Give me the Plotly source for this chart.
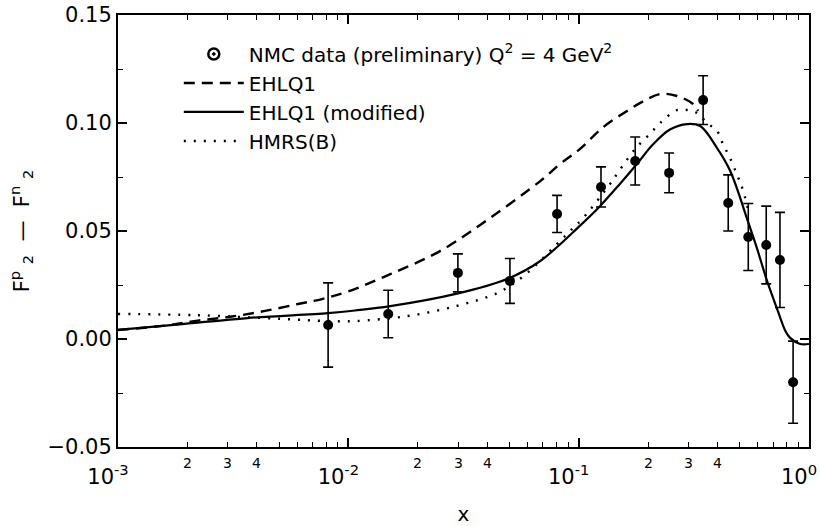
import math
import plotly.graph_objects as go

# ---------------- data ----------------
nmc_x = [0.00817, 0.0149, 0.0299, 0.0503, 0.0806, 0.125, 0.176, 0.247, 0.347,
         0.446, 0.545, 0.652, 0.748, 0.853]
nmc_y = [0.0065, 0.0116, 0.0306, 0.0269, 0.0579, 0.0704, 0.0824, 0.0769, 0.1106,
         0.063, 0.0472, 0.0435, 0.0366, -0.020]
nmc_err = [0.0195, 0.011, 0.0088, 0.0104, 0.0086, 0.0093, 0.0111, 0.0092, 0.0113,
           0.013, 0.0155, 0.018, 0.022, 0.019]

ehlq1_x = [0.001, 0.0016, 0.00222, 0.00312, 0.00435, 0.00605, 0.00769, 0.00998,
           0.0152, 0.025, 0.0412, 0.0679, 0.083, 0.1014, 0.1276, 0.1622, 0.1905,
           0.2256, 0.2673, 0.314, 0.330]
ehlq1_y = [0.0042, 0.0062, 0.0085, 0.0104, 0.013, 0.0162, 0.0185, 0.022,
           0.030, 0.0407, 0.056, 0.073, 0.081, 0.088, 0.098, 0.1056, 0.110,
           0.1134, 0.1125, 0.1088, 0.1056]

mod_x = [0.001, 0.0019, 0.00366, 0.00817, 0.0107, 0.0152, 0.0296, 0.0489, 0.0679,
         0.1014, 0.124, 0.151, 0.179, 0.210, 0.249, 0.296, 0.337, 0.399,
         0.454, 0.545, 0.596, 0.657, 0.734, 0.79, 0.828, 0.915, 1.0]
mod_y = [0.0042, 0.0069, 0.0097, 0.012, 0.0132, 0.0152, 0.021, 0.0278, 0.036,
         0.0525, 0.0616, 0.0718, 0.081, 0.090, 0.097, 0.0995, 0.0986, 0.0884,
         0.078, 0.054, 0.0416, 0.027, 0.0127, 0.0037, 0.0005, -0.0023, -0.0023]

hmrs_x = [0.001, 0.00222, 0.00515, 0.00817, 0.0107, 0.018, 0.0296, 0.0443, 0.0574,
          0.0806, 0.0946, 0.1045, 0.137, 0.148, 0.176, 0.204, 0.226, 0.267, 0.296,
          0.327, 0.361, 0.399, 0.424, 0.454, 0.487, 0.513, 0.544]
hmrs_y = [0.0116, 0.011, 0.0093, 0.0083, 0.0083, 0.0106, 0.0153, 0.0213, 0.029,
          0.044, 0.0514, 0.056, 0.0718, 0.077, 0.088, 0.095, 0.100, 0.106, 0.106,
          0.1046, 0.100, 0.0963, 0.090, 0.0838, 0.076, 0.070, 0.060]

x_major_vals = [0.001, 0.01, 0.1, 1.0]
x_major_text = ["10<sup>-3</sup>", "10<sup>-2</sup>", "10<sup>-1</sup>", "10<sup>0</sup>"]
x_minor_label_vals = [0.002, 0.003, 0.004, 0.02, 0.03, 0.04, 0.2, 0.3, 0.4]
x_minor_label_text = ["2", "3", "4", "2", "3", "4", "2", "3", "4"]
x_minor_ticks = [m * d for d in (0.001, 0.01, 0.1) for m in range(2, 10)]

y_major_vals = [-0.05, 0.0, 0.05, 0.10, 0.15]
y_major_text = ["\u22120.05", "0.00", "0.05", "0.10", "0.15"]
y_minor_vals = [-0.025, 0.025, 0.075, 0.125]

FONT = "DejaVu Sans"

fig = go.Figure()

fig.add_trace(go.Scatter(
    x=ehlq1_x, y=ehlq1_y, mode="lines", name="EHLQ1",
    line=dict(color="black", width=2.4, dash="11px,7px", shape="spline"),
    legendrank=2))
fig.add_trace(go.Scatter(
    x=mod_x, y=mod_y, mode="lines", name="EHLQ1 (modified)",
    line=dict(color="black", width=2.2, shape="spline"),
    legendrank=3))
fig.add_trace(go.Scatter(
    x=hmrs_x, y=hmrs_y, mode="lines", name="HMRS(B)",
    line=dict(color="black", width=2.4, dash="2px,8px", shape="spline"),
    legendrank=4))
fig.add_trace(go.Scatter(
    x=nmc_x, y=nmc_y, mode="markers", showlegend=False,
    marker=dict(color="black", size=10, symbol="circle"),
    error_y=dict(type="data", array=nmc_err, visible=True, color="black",
                 thickness=1.6, width=5)))
# legend entry for the data (legend glyph only)
fig.add_trace(go.Scatter(
    x=[None], y=[None], mode="markers",
    name="NMC data (preliminary) Q<sup>2</sup> = 4 GeV<sup>2</sup>",
    marker=dict(color="white", size=11, symbol="circle-dot",
                line=dict(color="black", width=2.5)),
    legendrank=1))

# minor decade labels 2, 3, 4
for v, t in zip(x_minor_label_vals, x_minor_label_text):
    fig.add_annotation(x=math.log10(v), xref="x", y=0, yref="paper",
                       yanchor="top", yshift=-6, text=t, showarrow=False,
                       font=dict(family=FONT, size=14, color="black"))

fig.update_layout(
    width=820, height=526,
    margin=dict(l=118, r=11, t=15, b=79),
    paper_bgcolor="white", plot_bgcolor="white",
    font=dict(family=FONT, color="black", size=20),
    legend=dict(x=0.088, y=0.955, xanchor="left", yanchor="top",
                bgcolor="rgba(0,0,0,0)", font=dict(size=20, family=FONT),
                itemwidth=60, traceorder="normal"),
    xaxis=dict(type="log", range=[-3, 0], showgrid=False, zeroline=False,
               automargin=False,
               showline=True, linecolor="black", linewidth=2, mirror="allticks",
               ticks="inside", ticklen=9, tickwidth=1.5, tickcolor="black",
               tickvals=x_major_vals, ticktext=x_major_text,
               tickfont=dict(size=21, family=FONT), ticklabelshift=-10,
               ticklabelstandoff=10,
               minor=dict(tickvals=x_minor_ticks, ticks="inside", ticklen=5,
                          tickwidth=1.3, tickcolor="black", showgrid=False),
               title=dict(text="x", font=dict(size=20, family=FONT), standoff=28)),
    yaxis=dict(range=[-0.05, 0.15], showgrid=False, zeroline=False,
               automargin=False,
               showline=True, linecolor="black", linewidth=2, mirror="allticks",
               ticks="inside", ticklen=9, tickwidth=1.5, tickcolor="black",
               tickvals=y_major_vals, ticktext=y_major_text,
               tickfont=dict(size=21, family=FONT),
               minor=dict(tickvals=y_minor_vals, ticks="inside", ticklen=5,
                          tickwidth=1.3, tickcolor="black", showgrid=False),
               title=dict(text="F<sup>p</sup> <sub>2</sub>  \u2014  F<sup>n</sup> <sub>2</sub>",
                          font=dict(size=21, family=FONT), standoff=12)),
)

fig.write_html("out.html")
